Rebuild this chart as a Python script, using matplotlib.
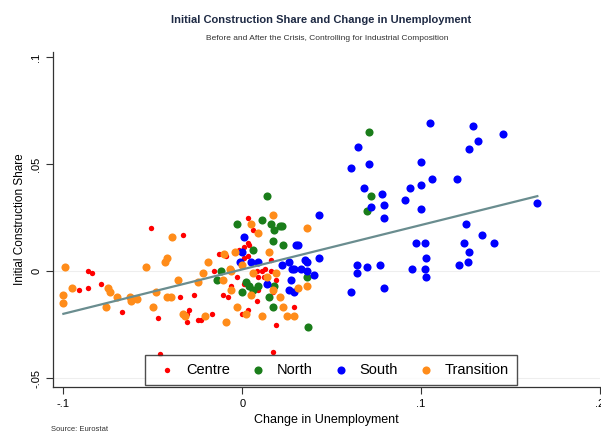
import numpy as np
import matplotlib.pyplot as plt

plt.rcParams['font.family'] = ['Liberation Sans', 'DejaVu Sans']

# Centre
centre_x = [-0.051, -0.033, -0.086, -0.084, -0.079, -0.091, -0.086, -0.067, -0.047, -0.035,
            -0.027, -0.031, -0.025, -0.031, -0.017, -0.016, -0.011, -0.008, 0.003, 0.006,
            -0.002, 0.001, 0.003, -0.013, -0.009, 0.008, 0.013, 0.016, 0.009, 0.017,
            0.019, 0.029, 0.003, -0.003, -0.046, 0.017, -0.006, -0.030, -0.023, 0.000,
            0.003, 0.011, 0.016, 0.009, 0.012, 0.001, 0.008, 0.019, 0.004, 0.001]
centre_y = [0.020, 0.017, 0.000, -0.001, -0.006, -0.009, -0.008, -0.019, -0.022, -0.012,
            -0.011, -0.020, -0.023, -0.024, -0.020, 0.000, -0.011, -0.012, 0.025, 0.019,
            0.010, 0.011, 0.007, 0.008, 0.007, 0.000, 0.001, 0.000, -0.009, -0.010,
            -0.025, -0.017, -0.018, -0.003, -0.039, -0.038, -0.007, -0.018, -0.023, -0.020,
            0.013, 0.000, 0.005, -0.003, -0.003, -0.006, -0.014, -0.004, 0.012, 0.006]

# North
north_x = [0.071, 0.072, 0.070, 0.022, 0.023, 0.036, 0.014, 0.011, 0.016, 0.021,
           0.018, -0.003, 0.017, 0.006, 0.002, 0.006, 0.015, 0.018, 0.017, 0.037,
           0.009, 0.004, -0.014, -0.012, 0.000]
north_y = [0.065, 0.035, 0.028, 0.021, 0.012, -0.003, 0.035, 0.024, 0.022, 0.021,
           0.019, 0.022, 0.014, 0.010, -0.005, -0.009, -0.012, -0.007, -0.017, -0.026,
           -0.007, -0.007, -0.004, 0.000, -0.010]

# South
south_x = [0.105, 0.129, 0.146, 0.132, 0.127, 0.065, 0.061, 0.071, 0.100, 0.106,
           0.120, 0.068, 0.094, 0.100, 0.078, 0.091, 0.079, 0.072, 0.079, 0.100,
           0.165, 0.043, 0.125, 0.134, 0.141, 0.124, 0.097, 0.102, 0.127, 0.031,
           0.043, 0.103, 0.064, 0.070, 0.077, 0.121, 0.126, 0.095, 0.102, 0.064,
           0.103, 0.061, 0.079, 0.040, 0.026, 0.029, 0.033, 0.036, 0.027, 0.026,
           0.001, 0.000, 0.005, 0.009, 0.030, 0.035, 0.028, 0.036, 0.029, 0.014,
           -0.001, 0.022]
south_y = [0.069, 0.068, 0.064, 0.061, 0.057, 0.058, 0.048, 0.050, 0.051, 0.043,
           0.043, 0.039, 0.039, 0.040, 0.036, 0.033, 0.031, 0.030, 0.025, 0.029,
           0.032, 0.026, 0.022, 0.017, 0.013, 0.013, 0.013, 0.013, 0.009, 0.012,
           0.006, 0.006, 0.003, 0.002, 0.003, 0.003, 0.004, 0.001, 0.001, -0.001,
           -0.003, -0.010, -0.008, -0.002, 0.004, 0.001, 0.001, 0.004, -0.004, -0.009,
           0.016, 0.009, 0.004, 0.004, 0.012, 0.005, 0.001, 0.000, -0.010, -0.006,
           0.004, 0.003]

# Transition
trans_x = [-0.099, -0.100, -0.100, -0.095, -0.075, -0.074, -0.070, -0.063, -0.062, -0.059,
           -0.076, -0.054, -0.043, -0.042, -0.039, -0.050, -0.048, -0.042, -0.036, -0.033,
           -0.032, -0.021, -0.009, -0.019, -0.022, -0.011, -0.006, -0.003, 0.002, 0.011,
           0.017, 0.009, -0.010, 0.000, 0.015, 0.019, 0.021, 0.023, 0.025, 0.029,
           0.036, 0.036, 0.031, -0.006, 0.005, -0.025, -0.040, -0.004, -0.007, 0.005,
           0.014, 0.006, 0.017]
trans_y = [0.002, -0.011, -0.015, -0.008, -0.008, -0.010, -0.012, -0.012, -0.014, -0.013,
           -0.017, 0.002, 0.004, 0.006, 0.016, -0.017, -0.010, -0.012, -0.004, -0.020,
           -0.021, -0.021, -0.024, 0.004, -0.001, -0.004, 0.000, -0.017, -0.020, -0.021,
           0.026, 0.018, 0.008, 0.003, 0.009, -0.001, -0.012, -0.017, -0.021, -0.021,
           0.020, -0.007, -0.008, -0.009, -0.011, -0.005, -0.012, 0.009, 0.001, 0.022,
           -0.003, -0.001, -0.009]

# linear fit end points
fit_x = [-0.100, 0.165]
fit_y = [-0.020, 0.035]

xticks = [-0.1, 0, 0.1, 0.2]
xtick_labels = ['-.1', '0', '.1', '.2']
yticks = [-0.05, 0, 0.05, 0.1]
ytick_labels = ['-.05', '0', '.05', '.1']

fig = plt.figure(figsize=(6.01, 4.36), dpi=100)
ax = fig.add_axes([0.0882, 0.1124, 0.910, 0.768])

for yg in [0, -0.05]:
    ax.axhline(yg, color='#eeeeee', lw=0.8, zorder=0)

ax.scatter(centre_x, centre_y, s=15, color='#ff0000', lw=0, label='Centre', zorder=2)
ax.scatter(north_x, north_y, s=34, color='#1a7d1a', lw=0, label='North', zorder=2)
ax.scatter(south_x, south_y, s=34, color='#0000ff', lw=0, label='South', zorder=2)
ax.scatter(trans_x, trans_y, s=34, color='#ff8c1a', lw=0, label='Transition', zorder=2)
ax.plot(fit_x, fit_y, color='#6a8d8f', lw=1.6, zorder=3)

ax.set_xlim(-0.1058, 0.2)
ax.set_ylim(-0.0542, 0.1023)
ax.set_xticks(xticks)
ax.set_xticklabels(xtick_labels, fontsize=8)
ax.set_yticks(yticks)
ax.set_yticklabels(ytick_labels, fontsize=8, rotation=90, va='center')
ax.tick_params(length=5, width=0.8, color='#333333')
for side in ['top', 'right']:
    ax.spines[side].set_visible(False)
for side in ['left', 'bottom']:
    ax.spines[side].set_color('#333333')
    ax.spines[side].set_linewidth(0.9)

ax.set_xlabel('Change in Unemployment', fontsize=9)
ax.set_ylabel('Initial Construction Share', fontsize=8.5)

leg = ax.legend(loc='lower left', bbox_to_anchor=(0.168, 0.006, 0.68, 0.087), mode='expand',
                ncol=4, fontsize=10.5, frameon=True, fancybox=False, handletextpad=0.3,
                borderpad=0.55, borderaxespad=0, scatterpoints=1)
leg.get_frame().set_edgecolor('#222222')
leg.get_frame().set_linewidth(1.0)

fig.text(0.535, 0.955, 'Initial Construction Share and Change in Unemployment',
         ha='center', va='center', fontsize=8, fontweight='bold', color='#1e2a44')
fig.text(0.545, 0.912, 'Before and After the Crisis, Controlling for Industrial Composition',
         ha='center', va='center', fontsize=6, color='#333333')
fig.text(0.085, 0.008, 'Source: Eurostat', ha='left', va='bottom', fontsize=5.5, color='#333333')

fig.savefig('out.png', dpi=100)
